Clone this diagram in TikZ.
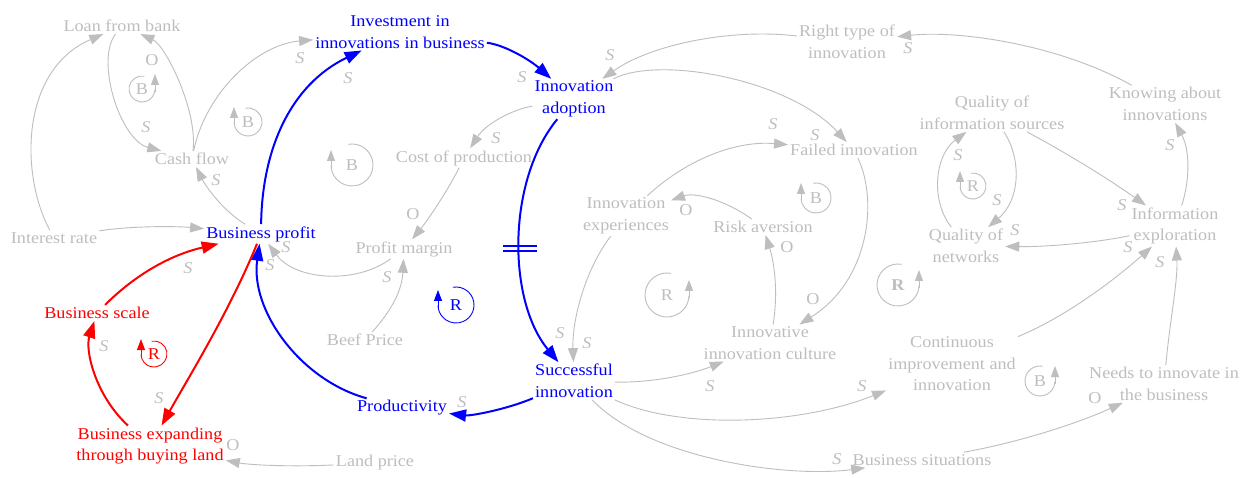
\documentclass[tikz,border=0pt]{standalone}
\usepackage{fontspec}
\setmainfont{Liberation Serif}[FakeStretch=1.1]
\usetikzlibrary{arrows.meta,calc}
\definecolor{gr}{RGB}{190,190,190}
\definecolor{bl}{RGB}{0,0,255}
\definecolor{rd}{RGB}{255,0,0}
\newcommand\lpcw[6]{%
  \draw[#5, line width=0.9pt] (#1,#2) ++(-100:#3) arc[start angle=-100, end angle=178, radius=#3];
  \draw[#5, line width=0.9pt, -{Triangle[length=11pt,width=8pt]}] ({#1-#3},{#2+3}) -- ({#1-#3},{#2-15});
  \node[var, text=#5, inner sep=0pt] (#6) at (#1,#2) {#4};}
\newcommand\lpccw[6]{%
  \draw[#5, line width=0.9pt] (#1,#2) ++(-80:#3) arc[start angle=-80, end angle=-358, radius=#3];
  \draw[#5, line width=0.9pt, -{Triangle[length=11pt,width=8pt]}] ({#1+#3},{#2+3}) -- ({#1+#3},{#2-15});
  \node[var, text=#5, inner sep=0pt] (#6) at (#1,#2) {#4};}
\begin{document}
\begin{tikzpicture}[x=1pt,y=-1pt,
  var/.style={font=\fontsize{16.5}{21.5}\selectfont, align=center, inner sep=2pt, text=gr},
  bvar/.style={var, text=bl},
  rvar/.style={var, text=rd},
  gl/.style={draw=gr, line width=0.9pt, -{Triangle[length=14pt,width=10pt]}},
  bll/.style={draw=bl, line width=2pt, -{Triangle[length=17pt,width=12pt]}},
  rdl/.style={draw=rd, line width=2pt, -{Triangle[length=17pt,width=12pt]}},
  pol/.style={font=\fontsize{16.5}{20}\selectfont\itshape, text=gr, inner sep=0pt},
  polo/.style={font=\fontsize{16.5}{20}\selectfont, text=gr, inner sep=0pt},
]
\useasboundingbox (0,0) rectangle (1245,478);
\fill[white] (0,0) rectangle (1245,478);

% variables
\node[var]  (loan)     at (122,26)  {Loan from bank};
\node[bvar] (invest)   at (400,32)  {Investment in\\innovations in business};
\node[bvar] (adopt)    at (574,99)  {Innovation\\adoption};
\node[var]  (right)    at (847,42)  {Right type of\\innovation};
\node[var]  (know)     at (1165,104){Knowing about\\innovations};
\node[var]  (qinfo)    at (992,113) {Quality of\\information sources};
\node[var]  (failed)   at (854,150) {Failed innovation};
\node[var]  (cash)     at (192,159) {Cash flow};
\node[var]  (cost)     at (464,158) {Cost of production};
\node[var]  (interest) at (54,238)  {Interest rate};
\node[bvar] (profit)   at (261,234) {Business profit};
\node[var]  (margin)   at (404,249) {Profit margin};
\node[var]  (exper)    at (626,216) {Innovation\\experiences};
\node[var]  (risk)     at (763,227) {Risk aversion};
\node[var]  (qnet)     at (966,246) {Quality of\\networks};
\node[var]  (infoexp)  at (1175,226){Information\\exploration};
\node[rvar] (scale)    at (97,313)  {Business scale};
\node[var]  (beef)     at (365,340) {Beef Price};
\node[var]  (culture)  at (770,343) {Innovative\\innovation culture};
\node[bvar] (succ)     at (574,381) {Successful\\innovation};
\node[var]  (cont)     at (952,364) {Continuous\\improvement and\\innovation};
\node[var]  (needs)    at (1164,384){Needs to innovate in\\the business};
\node[bvar] (prod)     at (402,408) {Productivity};
\node[rvar] (expand)   at (150,446) {Business expanding\\through buying land};
\node[var]  (land)     at (375,463) {Land price};
\node[var]  (bsit)     at (922,460) {Business situations};

% grey links
\draw[gl] (interest) .. controls (20,175) and (20,70) .. (loan);
\draw[gl] (interest) .. controls (130,226) and (175,226) .. (profit);
\draw[gl] (loan) .. controls (95,60) and (120,140) .. (cash);
\draw[gl] (cash) .. controls (198,110) and (165,45) .. (loan);
\draw[gl] (cash) .. controls (205,95) and (255,45) .. (invest);
\draw[gl] (profit) .. controls (222,210) and (205,185) .. (cash);
\draw[gl] (adopt) .. controls (510,110) and (485,125) .. (cost);
\draw[gl] (cost) .. controls (448,190) and (428,220) .. (margin);
\draw[gl] (margin) .. controls (355,285) and (295,280) .. (profit);
\draw[gl] (beef) .. controls (392,310) and (402,290) .. (margin);
\draw[gl] (adopt) .. controls (660,55) and (790,80) .. (failed);
\draw[gl] (right) .. controls (730,28) and (650,45) .. (adopt);
\draw[gl] (know) .. controls (1060,45) and (960,30) .. (right);
\draw[gl] (qinfo) .. controls (1022,160) and (1020,200) .. (qnet);
\draw[gl] (qnet) .. controls (930,200) and (935,155) .. (qinfo);
\draw[gl] (qinfo) .. controls (1070,155) and (1110,180) .. (infoexp);
\draw[gl] (infoexp) .. controls (1190,180) and (1190,150) .. (know);
\draw[gl] (infoexp) .. controls (1100,242) and (1050,247) .. (qnet);
\draw[gl] (exper) .. controls (680,165) and (730,140) .. (failed);
\draw[gl] (risk) .. controls (725,200) and (695,192) .. (exper);
\draw[gl] (failed) .. controls (878,200) and (870,280) .. (culture);
\draw[gl] (culture) .. controls (778,295) and (775,265) .. (risk);
\draw[gl] (exper) .. controls (585,270) and (572,320) .. (succ);
\draw[gl] (succ) .. controls (650,383) and (690,375) .. (culture);
\draw[gl] (succ) .. controls (680,430) and (800,425) .. (cont);
\draw[gl] (succ) .. controls (650,460) and (790,478) .. (bsit);
\draw[gl] (bsit) .. controls (1030,440) and (1085,420) .. (needs);
\draw[gl] (needs) .. controls (1170,320) and (1178,280) .. (infoexp);
\draw[gl] (cont) .. controls (1070,315) and (1120,275) .. (infoexp);
\draw[gl] (land) .. controls (290,467) and (250,465) .. (expand);

% blue loop
\draw[bll] (profit) .. controls (262,150) and (290,85) .. (invest);
\draw[bll] (invest) .. controls (505,45) and (530,60) .. (adopt);
\draw[bll] (adopt) .. controls (507,180) and (507,300) .. (succ) coordinate[pos=0.53] (dly);
\draw[bll] (succ) .. controls (505,410) and (470,416) .. (prod);
\draw[bll] (prod) .. controls (300,380) and (250,310) .. (profit);
\draw[draw=bl, line width=1.8pt]
  ([xshift=-17pt,yshift=2.5pt]dly) -- ([xshift=17pt,yshift=2.5pt]dly)
  ([xshift=-17pt,yshift=-2.5pt]dly) -- ([xshift=17pt,yshift=-2.5pt]dly);

% red loop
\draw[rdl] (scale) .. controls (135,275) and (170,255) .. (profit);
\draw[rdl] (profit) .. controls (230,310) and (190,375) .. (expand);
\draw[rdl] (expand) .. controls (95,395) and (85,350) .. (scale);

% polarity labels
\node[polo] (p1)  at (152,60)  {O};
\node[pol]  (p2)  at (146,127) {S};
\node[pol]  (p3)  at (300,58)  {S};
\node[pol]  (p4)  at (348,78)  {S};
\node[pol]  (p5)  at (216,180) {S};
\node[pol]  (p6)  at (496,138) {S};
\node[polo] (p7)  at (413,214) {O};
\node[pol]  (p8)  at (286,247) {S};
\node[pol]  (p9)  at (270,265) {S};
\node[pol]  (p10) at (387,277) {S};
\node[pol]  (p11) at (188,268) {S};
\node[pol]  (p12) at (104,346) {S};
\node[pol]  (p13) at (159,398) {S};
\node[polo] (p14) at (233,445) {O};
\node[pol]  (p15) at (462,402) {S};
\node[pol]  (p16) at (522,77)  {S};
\node[pol]  (p17) at (610,55)  {S};
\node[pol]  (p18) at (773,124) {S};
\node[pol]  (p19) at (815,135) {S};
\node[pol]  (p20) at (908,48)  {S};
\node[pol]  (p21) at (958,155) {S};
\node[pol]  (p22) at (997,200) {S};
\node[pol]  (p23) at (1015,230){S};
\node[pol]  (p24) at (1122,205){S};
\node[pol]  (p25) at (1170,145){S};
\node[polo] (p26) at (686,210) {O};
\node[polo] (p27) at (787,247) {O};
\node[polo] (p28) at (813,299) {O};
\node[pol]  (p29) at (560,333) {S};
\node[pol]  (p30) at (587,343) {S};
\node[pol]  (p31) at (710,386) {S};
\node[pol]  (p32) at (862,386) {S};
\node[pol]  (p33) at (837,459) {S};
\node[polo] (p34) at (1095,398){O};
\node[pol]  (p35) at (1160,262){S};
\node[pol]  (p36) at (1128,247){S};

% loop markers
\lpccw{142}{89}{13}{B}{gr}{m1}
\lpcw{248}{122}{14}{B}{gr}{m2}
\lpcw{352}{165}{21}{B}{gr}{m3}
\lpcw{154}{354}{13}{R}{rd}{m4}
\lpcw{456}{305}{18}{R}{bl}{m5}
\lpcw{816}{198}{15}{B}{gr}{m6}
\lpcw{973}{186}{13}{R}{gr}{m7}
\lpccw{667}{295}{22}{R}{gr}{m8}
\lpccw{898}{285}{21}{\bfseries R}{gr}{m9}
\lpccw{1040}{381}{15}{B}{gr}{m10}
\end{tikzpicture}
\end{document}
